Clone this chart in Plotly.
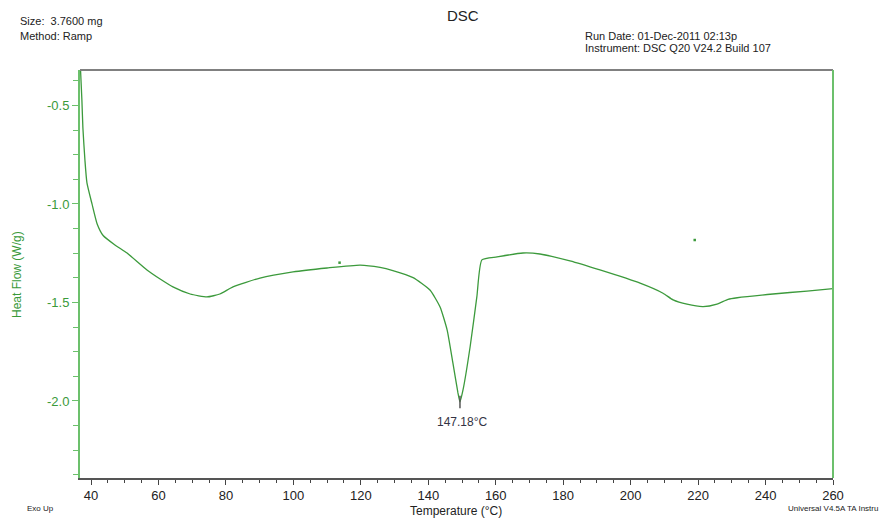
import plotly.graph_objects as go

# Temperature (°C) and heat flow (W/g)
temperature = [36.9, 37.3, 37.6, 38.2, 38.8, 40.3, 41.8, 43.6, 47.1, 50.7, 56.6, 60.5, 64.3, 69.4,
               74.4, 78.2, 82.1, 90.1, 99.9, 110.0, 119.8, 125.7, 129.5, 135.5, 140.5, 143.5,
               145.6, 147.3, 148.8, 149.4, 150.3, 152.4, 154.4, 155.9, 160.4, 168.1, 173.1,
               182.0, 190.9, 202.8, 209.6, 212.6, 216.7, 221.5, 225.6, 228.9, 231.6, 242.2,
               252.3, 260.0]
heat_flow = [-0.32, -0.472, -0.614, -0.777, -0.893, -1.0, -1.1, -1.16, -1.208, -1.249, -1.335,
             -1.381, -1.421, -1.457, -1.472, -1.457, -1.421, -1.376, -1.345, -1.325, -1.31, -1.322,
             -1.338, -1.374, -1.437, -1.523, -1.64, -1.807, -1.959, -2.005, -1.944, -1.726, -1.472,
             -1.284, -1.269, -1.249, -1.254, -1.289, -1.335, -1.402, -1.453, -1.487, -1.509,
             -1.521, -1.508, -1.484, -1.476, -1.457, -1.442, -1.43]

# Stray data dots visible in the plot
stray_t = [113.7, 219.0]
stray_v = [-1.298, -1.183]

peak_label = "147.18°C"

x_ticks = [40, 60, 80, 100, 120, 140, 160, 180, 200, 220, 240, 260]
y_ticks = [-0.5, -1.0, -1.5, -2.0]
y_tick_text = ["-0.5", "-1.0", "-1.5", "-2.0"]

CURVE = "#3c9a3c"
AXIS_GREEN = "#6cc06c"
LABEL_GREEN = "#3a9a3a"
FONT = "Liberation Sans, Arial, sans-serif"

fig = go.Figure()
fig.add_trace(go.Scatter(x=temperature, y=heat_flow, mode="lines",
                         line=dict(color=CURVE, width=1.3, shape="spline", smoothing=0.5),
                         hoverinfo="x+y", showlegend=False))
fig.add_trace(go.Scatter(x=stray_t, y=stray_v, mode="markers",
                         marker=dict(color=CURVE, size=2.5, symbol="square"), showlegend=False))

# peak marker
imin = heat_flow.index(min(heat_flow))
fig.add_trace(go.Scatter(x=[temperature[imin]], y=[heat_flow[imin]], mode="markers",
                         marker=dict(symbol="line-ns", size=9, line=dict(color="#555555", width=1.5)),
                         showlegend=False))
fig.add_annotation(x=temperature[imin], y=heat_flow[imin], text=peak_label, showarrow=False,
                   yshift=-20, xshift=3, font=dict(family=FONT, size=12, color="#333344"))

fig.update_layout(
    width=886, height=518,
    margin=dict(l=80, r=53, t=70, b=40),
    paper_bgcolor="white", plot_bgcolor="white",
    font=dict(family=FONT),
    xaxis=dict(range=[36.74, 260], tickvals=x_ticks, ticks="outside", ticklen=5,
               tickcolor="#444444", showgrid=False, zeroline=False,
               showline=True, linecolor="#555555", linewidth=1.5,
               tickfont=dict(family="Liberation Sans Narrow, Liberation Sans, Arial", size=13, color="#222222"),
               minor=dict(dtick=5, tick0=0, ticks="outside", ticklen=3, tickcolor="#444444")),
    yaxis=dict(range=[-2.391, -0.32], tickvals=y_ticks, ticktext=y_tick_text, ticks="outside",
               ticklen=6, tickcolor=AXIS_GREEN, showgrid=False, zeroline=False,
               showline=True, linecolor=AXIS_GREEN, linewidth=2,
               tickfont=dict(family=FONT, size=13, color=LABEL_GREEN),
               minor=dict(dtick=0.125, tick0=0, ticks="outside", ticklen=5, tickcolor=AXIS_GREEN)),
    shapes=[
        dict(type="line", xref="paper", yref="paper", x0=0, x1=1, y0=1, y1=1,
             line=dict(color="#808080", width=2)),
        dict(type="line", xref="paper", yref="paper", x0=1, x1=1, y0=0, y1=1,
             line=dict(color=AXIS_GREEN, width=2)),
    ],
)

def note(x, y, text, size=11, color="#222222", xanchor="left", textangle=0):
    fig.add_annotation(xref="paper", yref="paper", x=x, y=y, text=text, showarrow=False,
                       xanchor=xanchor, yanchor="middle", textangle=textangle,
                       font=dict(family=FONT, size=size, color=color))

W, H = 886, 518
def px(x):
    return (x - 80) / (833 - 80)
def py(y):
    return (H - 40 - y) / (H - 40 - 70)

note(px(463), py(15), "DSC", size=15, xanchor="center")
note(px(18), py(21), "Size:  3.7600 mg")
note(px(18), py(36), "Method: Ramp")
note(px(583), py(36), "Run Date: 01-Dec-2011 02:13p")
note(px(583), py(48), "Instrument: DSC Q20 V24.2 Build 107")
note(px(25), py(508), "Exo Up", size=8)
note(px(456), py(511), "Temperature (°C)", size=12, xanchor="center")
note(px(786), py(508), "Universal V4.5A TA Instru", size=8)
note(px(17), py(275), "Heat Flow (W/g)", size=12, color=LABEL_GREEN, xanchor="center", textangle=-90)

fig.write_html("out.html")
